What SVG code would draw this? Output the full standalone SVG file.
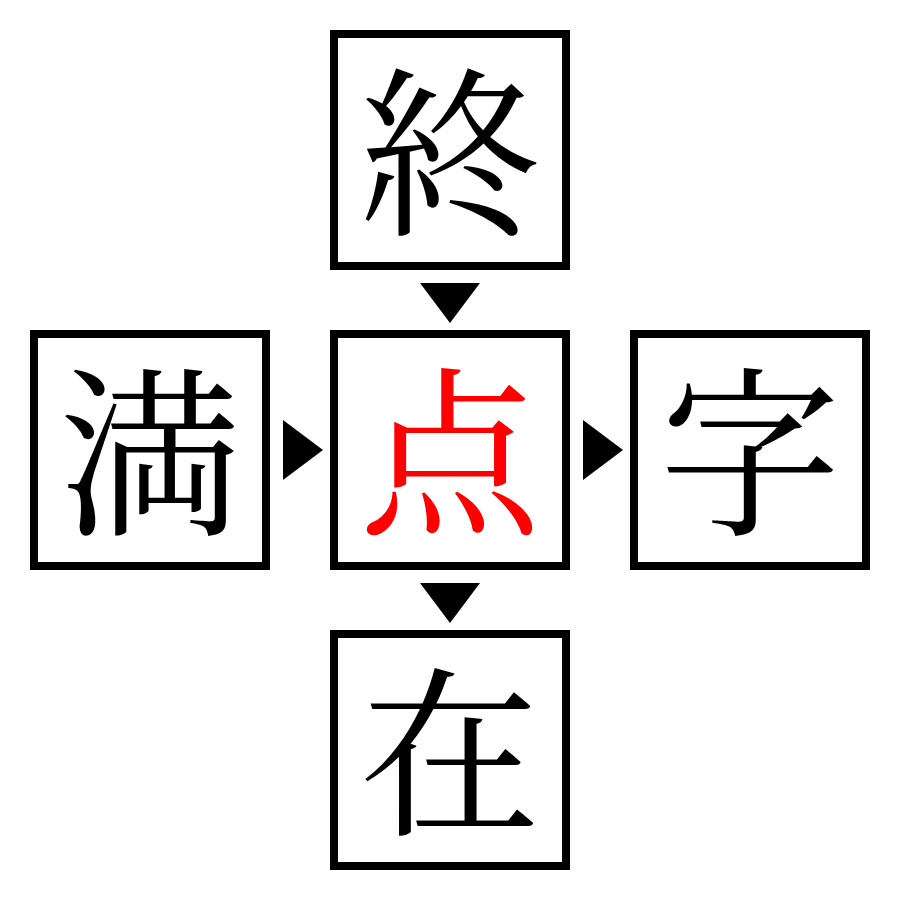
<svg xmlns="http://www.w3.org/2000/svg" width="900" height="900" viewBox="0 0 900 900">
<style>
.box{fill:#fff;stroke:#000;stroke-width:8}
.t{font-family:"Noto Serif CJK JP","Noto Sans CJK JP",serif;font-size:182px;text-anchor:middle;dominant-baseline:central;fill:#000}
.arr{fill:#000}
</style>
<rect width="900" height="900" fill="#fff"/>
<g id="n-top"><rect class="box" x="334" y="34" width="232" height="232"/><text class="t" x="450" y="142">終</text></g>
<g id="n-left"><rect class="box" x="34" y="334" width="232" height="232"/><text class="t" x="150" y="442">満</text></g>
<g id="n-center"><rect class="box" x="334" y="334" width="232" height="232"/><text class="t" x="450" y="442" style="fill:#f00">点</text></g>
<g id="n-right"><rect class="box" x="634" y="334" width="232" height="232"/><text class="t" x="750" y="442">字</text></g>
<g id="n-bottom"><rect class="box" x="334" y="634" width="232" height="232"/><text class="t" x="450" y="742">在</text></g>
<g id="connectors">
<polygon class="arr" points="420,283 480,283 450,323"/>
<polygon class="arr" points="283,420 283,480 323,450"/>
<polygon class="arr" points="583,420 583,480 623,450"/>
<polygon class="arr" points="420,583 480,583 450,623"/>
</g>
</svg>
